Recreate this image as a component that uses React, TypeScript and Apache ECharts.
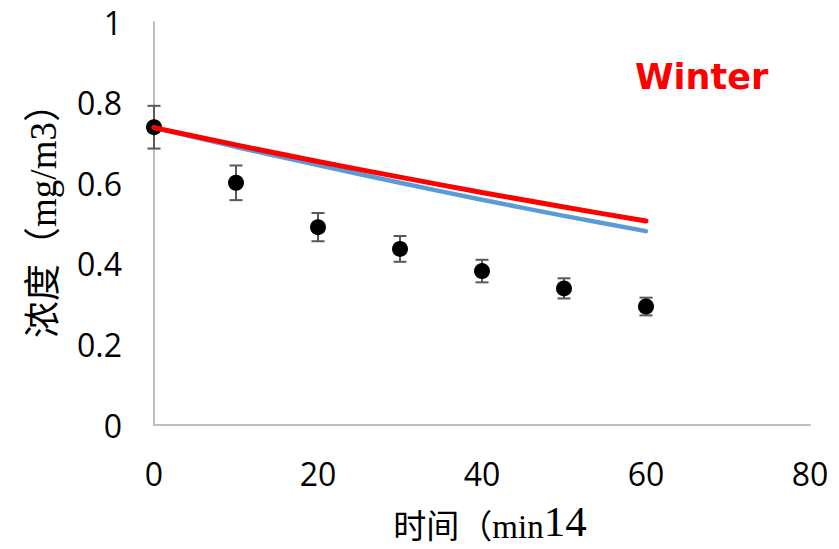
import React, { useEffect, useRef } from "react";
import * as echarts from "echarts";

const timeMin = [0, 10, 20, 30, 40, 50, 60];
const measured = [0.739, 0.601, 0.491, 0.437, 0.382, 0.339, 0.294];
const errorHalf = [0.053, 0.043, 0.035, 0.032, 0.028, 0.025, 0.022];
const modelBlue = [0.738, 0.690, 0.645, 0.601, 0.559, 0.519, 0.481];
const modelRed = [0.738, 0.695, 0.654, 0.615, 0.577, 0.541, 0.506];
const xTicks = [0, 20, 40, 60, 80];
const yTicks = [0, 0.2, 0.4, 0.6, 0.8, 1];

export default function App() {
  const ref = useRef<HTMLDivElement>(null);
  useEffect(() => {
    if (!ref.current) return;
    const chart = echarts.init(ref.current, null, { renderer: "svg" });
    const errData = timeMin.map((t, i) => [t, measured[i] - errorHalf[i], measured[i] + errorHalf[i]]);
    chart.setOption({
      animation: false,
      backgroundColor: "#ffffff",
      grid: { left: 154, right: 29, top: 22, bottom: 124, outerBoundsMode: "none", containLabel: false },
      title: {
        text: "Winter",
        left: 630,
        top: 54,
        textStyle: { color: "#ff0000", fontFamily: "DejaVu Sans", fontWeight: "bold", fontSize: 35 },
      },
      xAxis: {
        type: "value",
        min: xTicks[0],
        max: xTicks[xTicks.length - 1],
        interval: 20,
        name: "{a|时间（min}{b|14}",
        nameLocation: "middle",
        nameGap: 76,
        nameTextStyle: {
          padding: [0, 0, 0, 16],
          lineHeight: 42,
          rich: {
            a: { fontFamily: "Liberation Serif, Noto Sans CJK SC", fontSize: 33, color: "#000", lineHeight: 42, verticalAlign: "bottom" },
            b: { fontFamily: "Liberation Serif", fontSize: 43, color: "#000", lineHeight: 42, verticalAlign: "bottom" },
          },
        },
        axisLine: { show: true, lineStyle: { color: "#bfbfbf", width: 2 } },
        axisTick: { show: false },
        splitLine: { show: false },
        axisLabel: { fontFamily: "Open Sans", fontSize: 32, color: "#000", margin: 32 },
      },
      yAxis: {
        type: "value",
        min: yTicks[0],
        max: yTicks[yTicks.length - 1],
        interval: 0.2,
        name: "浓度（mg/m3）",
        nameLocation: "middle",
        nameGap: 92,
        nameRotate: 90,
        nameTextStyle: { fontFamily: "Liberation Serif, Noto Sans CJK SC", fontSize: 37, color: "#000", padding: [0, 0, 0, 24] },
        axisLine: { show: true, lineStyle: { color: "#bfbfbf", width: 2 } },
        axisTick: { show: false },
        splitLine: { show: false },
        axisLabel: {
          fontFamily: "Open Sans",
          fontSize: 32,
          color: "#000",
          margin: 32,
          formatter: (v: number) => (v === 0 || v === 1 ? String(v) : v.toFixed(1)),
        },
      },
      series: [
        {
          type: "custom",
          name: "error",
          z: 2,
          data: errData,
          renderItem: (params: any, api: any) => {
            const x = api.value(0);
            const lo = api.coord([x, api.value(1)]);
            const hi = api.coord([x, api.value(2)]);
            const half = 6.5;
            const style = { stroke: "#595959", lineWidth: 2 };
            return {
              type: "group",
              children: [
                { type: "line", shape: { x1: lo[0], y1: lo[1], x2: hi[0], y2: hi[1] }, style },
                { type: "line", shape: { x1: lo[0] - half, y1: lo[1], x2: lo[0] + half, y2: lo[1] }, style },
                { type: "line", shape: { x1: hi[0] - half, y1: hi[1], x2: hi[0] + half, y2: hi[1] }, style },
              ],
            };
          },
        },
        {
          type: "scatter",
          name: "measured",
          z: 3,
          symbol: "circle",
          symbolSize: 16,
          itemStyle: { color: "#000000", opacity: 1 },
          data: timeMin.map((t, i) => [t, measured[i]]),
        },
        {
          type: "line",
          name: "blue",
          z: 4,
          smooth: 0.3,
          showSymbol: false,
          symbol: "none",
          lineStyle: { color: "#5b9bd5", width: 4.5, cap: "round" },
          data: timeMin.map((t, i) => [t, modelBlue[i]]),
        },
        {
          type: "line",
          name: "red",
          z: 5,
          smooth: 0.3,
          showSymbol: false,
          symbol: "none",
          lineStyle: { color: "#ff0000", width: 5, cap: "round" },
          data: timeMin.map((t, i) => [t, modelRed[i]]),
        },
      ],
    });
    return () => chart.dispose();
  }, []);
  return <div ref={ref} style={{ width: 839, height: 549, position: "absolute", left: 0, top: 0 }} />;
}
